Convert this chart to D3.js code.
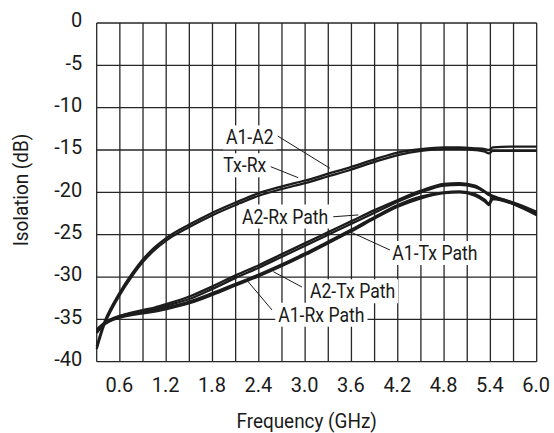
<!DOCTYPE html>
<html>
<head>
<meta charset="utf-8">
<script src="https://cdn.jsdelivr.net/npm/d3@7"></script>
<style>
    body { margin: 0; background: #fff; }
    svg.vis { display: block; }
    svg text { font-family: Roboto, "Liberation Sans", sans-serif; fill: #1a1a1a; }
</style>
</head>
<body>
<svg class="vis"></svg>
<script>

// frequency points (GHz) shared by every trace
const freqs = [0.3, 0.4, 0.5, 0.6, 0.75, 0.9, 1.05, 1.2, 1.5, 1.8, 2.1, 2.4, 2.7, 3.0,
               3.3, 3.6, 3.9, 4.2, 4.5, 4.8, 5.0, 5.2, 5.33, 5.38, 5.43, 5.7, 6.0];

// isolation traces (dB)
const a1_a2 = [-38.2, -35.3, -33.4, -31.8, -29.7, -27.9, -26.5, -25.4, -23.8, -22.4, -21.2, -20.1, -19.3, -18.6,
               -17.8, -17.0, -16.1, -15.3, -14.9, -14.7, -14.7, -14.8, -14.9, -15.0, -14.7, -14.6, -14.6];
const tx_rx = [-38.5, -35.6, -33.7, -32.1, -30.0, -28.2, -26.8, -25.7, -24.1, -22.7, -21.5, -20.4, -19.6, -18.9,
               -18.1, -17.3, -16.4, -15.6, -15.1, -14.9, -14.9, -15.0, -15.2, -15.4, -15.1, -15.1, -15.1];
const a2_rx = [-36.6, -35.6, -35.0, -34.6, -34.2, -33.9, -33.6, -33.2, -32.3, -31.1, -29.8, -28.6, -27.3, -26.0,
               -24.7, -23.4, -22.1, -20.9, -19.8, -19.0, -18.9, -19.2, -19.9, -20.2, -20.4, -21.3, -22.5];
const a1_tx = [-36.4, -35.5, -35.0, -34.7, -34.4, -34.1, -33.8, -33.4, -32.6, -31.4, -30.1, -28.9, -27.6, -26.3,
               -25.0, -23.7, -22.4, -21.1, -20.0, -19.2, -19.1, -19.4, -20.0, -20.3, -20.5, -21.4, -22.7];
const a2_tx = [-36.2, -35.4, -34.9, -34.6, -34.3, -34.1, -33.9, -33.6, -32.9, -31.9, -30.8, -29.7, -28.5, -27.2,
               -25.8, -24.4, -22.9, -21.5, -20.5, -20.0, -19.9, -20.2, -20.9, -21.3, -20.6, -21.2, -22.3];
const a1_rx = [-36.5, -35.6, -35.1, -34.8, -34.5, -34.3, -34.1, -33.8, -33.1, -32.1, -31.0, -29.9, -28.7, -27.4,
               -26.0, -24.6, -23.1, -21.7, -20.7, -20.1, -20.0, -20.4, -21.1, -21.5, -20.8, -21.4, -22.6];

const series_names = ["A1-A2", "Tx-Rx", "A2-Rx Path", "A1-Tx Path", "A2-Tx Path", "A1-Rx Path"];
const series_vals  = [a1_a2, tx_rx, a2_rx, a1_tx, a2_tx, a1_rx];

// axis ticks
const x_grid  = d3.range(0.3, 6.01, 0.3);
const x_ticks = ["0.6", "1.2", "1.8", "2.4", "3.0", "3.6", "4.2", "4.8", "5.4", "6.0"];
const y_ticks = ["0", "-5", "-10", "-15", "-20", "-25", "-30", "-35", "-40"];

// callouts in data units: text (left, baseline), leader from -> to
const label_pos   = [[1.975, -14.33], [1.94, -17.63], [2.182, -23.68], [4.129, -27.99], [3.063, -32.51], [2.652, -35.28]];
const leader_from = [[2.645, -13.35], [2.554, -16.97], [3.365, -22.88], [4.099, -26.81], [2.959, -31.18], [2.571, -33.89]];
const leader_to   = [[3.322, -17.16], [2.911, -18.27], [3.689, -22.67], [3.581, -24.65], [2.588, -29.37], [2.243, -30.35]];

const vis = {

    refs: {
        svg: "svg.vis"
    },

    sels: {
        svg: null
    },

    dims: {
        w: 554,
        h: 433,
        left: 96.7,
        right: 536.7,
        top: 23,
        bottom: 361.7
    },

    init: function() {

        vis.sels.svg = d3.select(vis.refs.svg)
            .attr("width", vis.dims.w)
            .attr("height", vis.dims.h);

        vis.draw.scales();
        vis.draw.grid();
        vis.draw.axes();
        vis.draw.traces();
        vis.draw.callouts();

    },

    f: {

        // the original lettering is a condensed face: squeeze Roboto horizontally
        squeeze: function(sel, k) {

            sel.each(function() {
                let len = this.getComputedTextLength();
                d3.select(this)
                  .attr("textLength", len * k)
                  .attr("lengthAdjust", "spacingAndGlyphs");
            });

        }

    },

    draw: {

        x: null,
        y: null,

        scales: function() {

            vis.draw.x = d3.scaleLinear()
                .domain([0.3, 6.0])
                .range([vis.dims.left, vis.dims.right]);

            vis.draw.y = d3.scaleLinear()
                .domain([-40, 0])
                .range([vis.dims.bottom, vis.dims.top]);

        },

        grid: function() {

            let g = vis.sels.svg.append("g").attr("class", "grid");

            g.selectAll("line.v")
              .data(x_grid)
              .join("line")
              .attr("class", "v")
              .attr("x1", d => vis.draw.x(d))
              .attr("x2", d => vis.draw.x(d))
              .attr("y1", vis.dims.top)
              .attr("y2", vis.dims.bottom)
              .attr("stroke", "#262626")
              .attr("stroke-width", 1.3);

            g.selectAll("line.h")
              .data(y_ticks.map(Number))
              .join("line")
              .attr("class", "h")
              .attr("x1", vis.dims.left)
              .attr("x2", vis.dims.right)
              .attr("y1", d => vis.draw.y(d))
              .attr("y2", d => vis.draw.y(d))
              .attr("stroke", "#262626")
              .attr("stroke-width", 1.3);

        },

        axes: function() {

            let svg = vis.sels.svg;

            let xa = svg.append("g")
                .attr("transform", `translate(0,${vis.dims.bottom})`)
                .call(d3.axisBottom(vis.draw.x)
                    .tickValues(x_ticks.map(Number))
                    .tickFormat((d, i) => x_ticks[i])
                    .tickSize(0)
                    .tickPadding(15.8));
            xa.select(".domain").remove();
            xa.attr("font-family", null);
            xa.selectAll("text")
              .attr("font-size", 20)
              .attr("fill", "#1a1a1a")
              .attr("dx", -1);

            // plain hyphen-minus as in the original, not d3's U+2212
            let ya = svg.append("g")
                .attr("transform", `translate(${vis.dims.left},0)`)
                .call(d3.axisLeft(vis.draw.y)
                    .tickValues(y_ticks.map(Number))
                    .tickFormat((d, i) => y_ticks[i])
                    .tickSize(0)
                    .tickPadding(14.5));
            ya.select(".domain").remove();
            ya.attr("font-family", null);
            ya.selectAll("text")
              .attr("font-size", 20)
              .attr("fill", "#1a1a1a")
              .attr("dy", 3.7);

            let xt = svg.append("text")
              .attr("x", 306.7)
              .attr("y", 428)
              .attr("text-anchor", "middle")
              .attr("font-size", 20)
              .text("Frequency (GHz)");

            let yt = svg.append("text")
              .attr("transform", "translate(27.5,190) rotate(-90)")
              .attr("text-anchor", "middle")
              .attr("font-size", 20)
              .text("Isolation (dB)");

            vis.f.squeeze(xt, 0.945);
            vis.f.squeeze(yt, 0.945);

        },

        traces: function() {

            let line = d3.line()
                .x(d => vis.draw.x(d[0]))
                .y(d => vis.draw.y(d[1]))
                .curve(d3.curveMonotoneX);

            vis.sels.svg.append("g")
              .selectAll("path")
              .data(series_vals)
              .join("path")
              .attr("d", vals => line(vals.map((v, i) => [freqs[i], v])))
              .attr("fill", "none")
              .attr("stroke", "#1c1c1c")
              .attr("stroke-width", 2.3);

        },

        callouts: function() {

            let g = vis.sels.svg.append("g").attr("class", "callouts");

            series_names.forEach((name, i) => {

                let bx = vis.draw.x(label_pos[i][0]);
                let by = vis.draw.y(label_pos[i][1]);

                let box = g.append("rect").attr("fill", "#fff");

                let t = g.append("text")
                  .attr("x", bx)
                  .attr("y", by)
                  .attr("font-size", 20)
                  .text(name);

                vis.f.squeeze(t, 0.88);

                let w = +t.attr("textLength");
                box.attr("x", bx - 3)
                   .attr("y", by - 19)
                   .attr("width", w + 6)
                   .attr("height", 24);

                g.append("line")
                  .attr("x1", vis.draw.x(leader_from[i][0]))
                  .attr("y1", vis.draw.y(leader_from[i][1]))
                  .attr("x2", vis.draw.x(leader_to[i][0]))
                  .attr("y2", vis.draw.y(leader_to[i][1]))
                  .attr("stroke", "#1c1c1c")
                  .attr("stroke-width", 1);

            });

        }

    }

};

vis.init();

</script>
</body>
</html>
